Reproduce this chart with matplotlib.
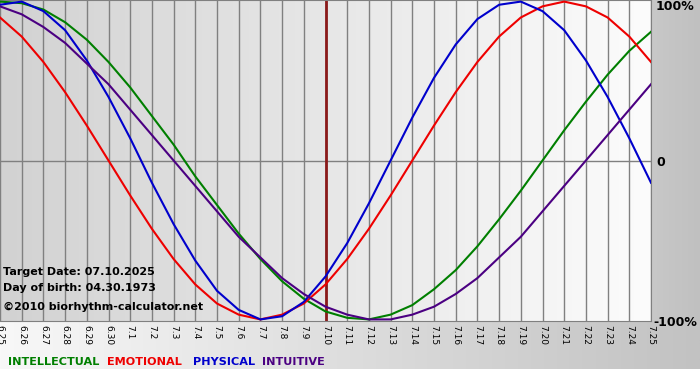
import numpy as np
import matplotlib
matplotlib.use("Agg")
import matplotlib.pyplot as plt
from matplotlib.colors import LinearSegmentedColormap

# day labels 6.25 .. 7.25
dates = ["6.25", "6.26", "6.27", "6.28", "6.29", "6.30",
         "7.1", "7.2", "7.3", "7.4", "7.5", "7.6", "7.7", "7.8", "7.9", "7.10",
         "7.11", "7.12", "7.13", "7.14", "7.15", "7.16", "7.17", "7.18", "7.19",
         "7.20", "7.21", "7.22", "7.23", "7.24", "7.25"]
target_label = "7.10"

# values read per day (-1 .. 1)
intellectual = [1.00, 0.99, 0.95, 0.87, 0.76, 0.62, 0.46, 0.28, 0.10, -0.10,
                -0.28, -0.46, -0.62, -0.76, -0.87, -0.95, -0.99, -1.00, -0.97, -0.91,
                -0.81, -0.69, -0.54, -0.37, -0.19, 0.00, 0.19, 0.37, 0.54, 0.69, 0.81]
emotional = [0.90, 0.78, 0.62, 0.43, 0.22, 0.00, -0.22, -0.43, -0.62, -0.78,
             -0.90, -0.97, -1.00, -0.97, -0.90, -0.78, -0.62, -0.43, -0.22, 0.00,
             0.22, 0.43, 0.62, 0.78, 0.90, 0.97, 1.00, 0.97, 0.90, 0.78, 0.62]
physical = [0.98, 1.00, 0.94, 0.82, 0.63, 0.40, 0.14, -0.14, -0.40, -0.63,
            -0.82, -0.94, -1.00, -0.98, -0.89, -0.73, -0.52, -0.27, 0.00, 0.27,
            0.52, 0.73, 0.89, 0.98, 1.00, 0.94, 0.82, 0.63, 0.40, 0.14, -0.14]
intuitive = [0.97, 0.92, 0.84, 0.74, 0.61, 0.48, 0.32, 0.16, 0.00, -0.16,
             -0.32, -0.48, -0.61, -0.74, -0.84, -0.92, -0.97, -1.00, -1.00, -0.97,
             -0.92, -0.84, -0.74, -0.61, -0.48, -0.32, -0.16, 0.00, 0.16, 0.32, 0.48]

series = [("INTELLECTUAL", intellectual, "#007f00"),
          ("EMOTIONAL", emotional, "#ee0000"),
          ("PHYSICAL", physical, "#0000cc"),
          ("INTUITIVE", intuitive, "#4b0082")]

W, H = 700, 380
fig = plt.figure(figsize=(W / 100, H / 100), dpi=100)
grad = np.linspace(0, 1, 256).reshape(1, -1)

# background layer, pixel coordinates
bg = fig.add_axes([0, 0, 1, 1], zorder=0)
bg.set_xlim(0, W)
bg.set_ylim(H, 0)
bg.axis("off")
band = LinearSegmentedColormap.from_list("band", ["#f8f8f8", "#c2c2c2"])
bg.imshow(grad, cmap=band, extent=[0, W, 369, 321], aspect="auto")
side = LinearSegmentedColormap.from_list("side", ["#c8c8c8", "#c0c0c0"])
bg.imshow(grad, cmap=side, extent=[651, W, 321, 0], aspect="auto")

# main plot
ax = fig.add_axes([0, 1 - 321 / H, 651 / W, 321 / H], zorder=1)
x = np.arange(len(dates))
ax.set_xlim(0, len(dates) - 1)
ax.set_ylim(-1.01, 1.01)
plot_bg = LinearSegmentedColormap.from_list("plotbg", ["#d2d2d2", "#fcfcfc"])
ax.imshow(grad, cmap=plot_bg, extent=[0, len(dates) - 1, -1.01, 1.01],
          aspect="auto", zorder=0)

for xi in x:
    ax.axvline(xi, color="#808080", lw=1, zorder=1)
ax.axhline(0, color="#808080", lw=1, zorder=1)
ax.axvline(dates.index(target_label), color="#8b1a1a", lw=2, zorder=2)

for name, vals, col in series:
    ax.plot(x, vals, color=col, lw=1.5, zorder=3)

for s in ax.spines.values():
    s.set_color("#808080")
ax.spines["left"].set_visible(False)

ax.set_xticks(x)
ax.set_xticklabels(dates, rotation=-90, fontsize=6.5, va="top", ha="center")
ax.tick_params(axis="x", length=0, pad=3)
ax.set_yticks([])

# text layer on top, pixel coordinates
top = fig.add_axes([0, 0, 1, 1], zorder=2)
top.set_xlim(0, W)
top.set_ylim(H, 0)
top.axis("off")

top.text(656, 7, "100%", fontsize=9, fontweight="bold", va="center")
top.text(656, 162, "0", fontsize=9, fontweight="bold", va="center")
top.text(653, 322, "-100%", fontsize=9, fontweight="bold", va="center")

top.text(3, 272, "Target Date: 07.10.2025", fontsize=8, fontweight="bold", va="center")
top.text(3, 288, "Day of birth: 04.30.1973", fontsize=8, fontweight="bold", va="center")
top.text(3, 307, "\u00a92010 biorhythm-calculator.net", fontsize=8, fontweight="bold",
         va="center")

legend_x = [8, 107, 193, 262]
for (name, vals, col), lx in zip(series, legend_x):
    top.text(lx, 362, name, fontsize=8.1, fontweight="bold", color=col, va="center")

fig.savefig("out.png", dpi=100)
